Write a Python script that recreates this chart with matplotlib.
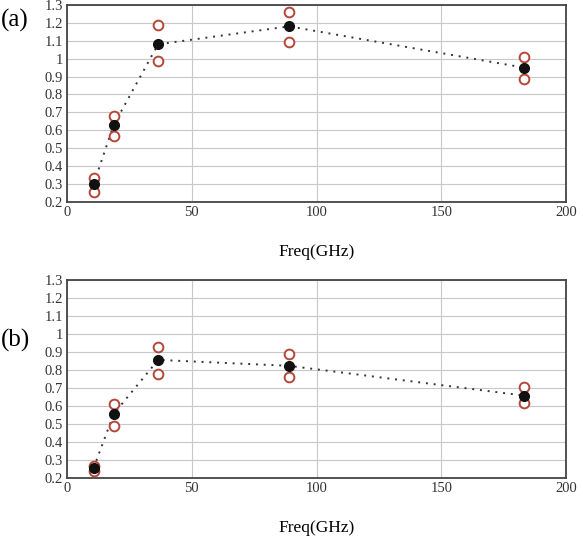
import numpy as np
import matplotlib
matplotlib.use('Agg')
import matplotlib.pyplot as plt

plt.rcParams['font.family'] = ['Liberation Serif', 'DejaVu Serif']

freq = [10.65, 18.7, 36.5, 89.0, 183.0]

# panel (a)
mean_a = [0.30, 0.63, 1.08, 1.18, 0.95]
upper_a = [0.335, 0.68, 1.185, 1.26, 1.01]
lower_a = [0.255, 0.57, 0.985, 1.095, 0.885]

# panel (b)
mean_b = [0.255, 0.555, 0.855, 0.822, 0.657]
upper_b = [0.268, 0.612, 0.927, 0.888, 0.705]
lower_b = [0.240, 0.490, 0.778, 0.758, 0.613]

yticks = [0.2, 0.3, 0.4, 0.5, 0.6, 0.7, 0.8, 0.9, 1.0, 1.1, 1.2, 1.3]
yticklabels = ['0.2', '0.3', '0.4', '0.5', '0.6', '0.7', '0.8', '0.9', '1', '1.1', '1.2', '1.3']
xticks = [0, 50, 100, 150, 200]

fig = plt.figure(figsize=(5.83, 5.4), dpi=100)
ax1 = fig.add_axes([0.115, 0.626, 0.856, 0.365])
ax2 = fig.add_axes([0.115, 0.115, 0.856, 0.367])

red = '#b5473a'

def draw(ax, mean, upper, lower, label, label_y):
    ax.plot(freq, mean, linestyle=(0, (1, 3)), color='#333333', lw=1.4, zorder=2)
    ax.plot(freq, upper, 'o', mfc='white', mec=red, ms=7, mew=1.4, zorder=3)
    ax.plot(freq, lower, 'o', mfc='white', mec=red, ms=7, mew=1.4, zorder=3)
    ax.plot(freq, mean, 'o', color='#111111', ms=7, zorder=4)
    ax.set_xlim(0, 200)
    ax.set_ylim(0.2, 1.3)
    ax.set_xticks(xticks)
    ax.set_yticks(yticks)
    ax.set_yticklabels(yticklabels)
    ax.grid(True, color='#c8c8c8', lw=0.8)
    ax.set_axisbelow(True)
    ax.tick_params(length=0, labelsize=10.5, colors='#333333', pad=3)
    for s in ax.spines.values():
        s.set_color('#444444')
        s.set_linewidth(1.3)
    ax.set_xlabel('Freq(GHz)', fontsize=12.5, labelpad=18)
    fig.text(0.002, label_y, label, fontsize=18, va='center', ha='left')

draw(ax1, mean_a, upper_a, lower_a, '(a)', 1 - 20 / 540)
draw(ax2, mean_b, upper_b, lower_b, '(b)', 1 - 340 / 540)

fig.savefig('out.png', dpi=100)
